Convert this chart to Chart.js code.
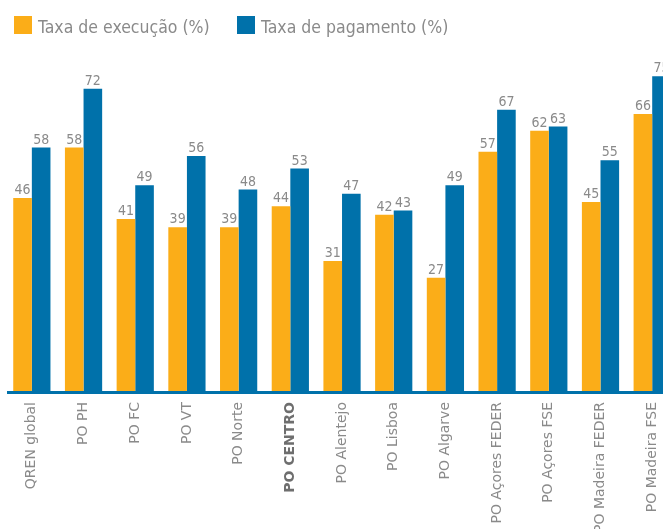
<!DOCTYPE html>
<html>
<head>
<meta charset="utf-8">
<script src="https://cdn.jsdelivr.net/npm/chart.js@4"></script>
<style>
  html, body { margin: 0; padding: 0; background: #fff; overflow: hidden; width: 663px; height: 529px; }
  #wrap { position: absolute; left: 0; top: 0; width: 680px; height: 529px; }
</style>
</head>
<body>
<div id="wrap"><canvas id="c" width="680" height="529"></canvas></div>
<script>
const categories = ["QREN global", "PO PH", "PO FC", "PO VT", "PO Norte", "PO CENTRO", "PO Alentejo", "PO Lisboa", "PO Algarve", "PO Açores FEDER", "PO Açores FSE", "PO Madeira FEDER", "PO Madeira FSE"];
const execucao = [46, 58, 41, 39, 39, 44, 31, 42, 27, 57, 62, 45, 66];
const pagamento = [58, 72, 49, 56, 48, 53, 47, 43, 49, 67, 63, 55, 75];
const seriesNames = ["Taxa de execução (%)", "Taxa de pagamento (%)"];
const highlightIndex = 5;

const ORANGE = "#FBAD18";
const BLUE = "#0071AA";
const GRAY = "#8A8A8A";

const customPlugin = {
  id: "custom",
  afterDatasetsDraw(chart) {
    const ctx = chart.ctx;
    const area = chart.chartArea;
    ctx.save();
    // axis line
    ctx.fillStyle = BLUE;
    ctx.fillRect(area.left + 1, area.bottom, area.right - area.left, 3);
    // value labels
    ctx.fillStyle = GRAY;
    ctx.font = "14px 'DejaVu Sans Condensed', 'DejaVu Sans', sans-serif";
    ctx.textAlign = "center";
    ctx.textBaseline = "alphabetic";
    chart.data.datasets.forEach((ds, di) => {
      const meta = chart.getDatasetMeta(di);
      meta.data.forEach((bar, i) => {
        ctx.fillText(String(ds.data[i]), bar.x, bar.y - 4);
      });
    });
    // legend
    ctx.font = "17.5px 'DejaVu Sans Condensed', 'DejaVu Sans', sans-serif";
    ctx.textAlign = "left";
    ctx.textBaseline = "alphabetic";
    const legendX = [14, 237];
    chart.data.datasets.forEach((ds, di) => {
      ctx.fillStyle = ds.backgroundColor;
      ctx.fillRect(legendX[di], 16, 18, 18);
      ctx.fillStyle = GRAY;
      ctx.fillText(ds.label, legendX[di] + 24, 33);
    });
    ctx.restore();
  }
};

new Chart(document.getElementById("c"), {
  type: "bar",
  data: {
    labels: categories,
    datasets: [
      { label: seriesNames[0], data: execucao, backgroundColor: ORANGE, barPercentage: 1, categoryPercentage: 0.72 },
      { label: seriesNames[1], data: pagamento, backgroundColor: BLUE, barPercentage: 1, categoryPercentage: 0.72 }
    ]
  },
  options: {
    responsive: false,
    devicePixelRatio: 1,
    animation: false,
    layout: { padding: { left: 6, right: 0, top: 51, bottom: 0 } },
    plugins: {
      legend: { display: false },
      tooltip: { enabled: false }
    },
    scales: {
      x: {
        grid: { display: false, drawTicks: false },
        border: { display: false },
        ticks: {
          autoSkip: false,
          maxRotation: 90,
          minRotation: 90,
          padding: 11,
          color: (c) => c.index === highlightIndex ? "#6E6E6E" : GRAY,
          font: (c) => c.index === highlightIndex
            ? { family: "'DejaVu Sans', sans-serif", size: 14, weight: "bold" }
            : { family: "'DejaVu Sans', sans-serif", size: 14 }
        },
        afterFit: (scale) => { scale.height = 138; }
      },
      y: {
        display: false,
        min: 0,
        max: 81
      }
    }
  },
  plugins: [customPlugin]
});
</script>
</body>
</html>
